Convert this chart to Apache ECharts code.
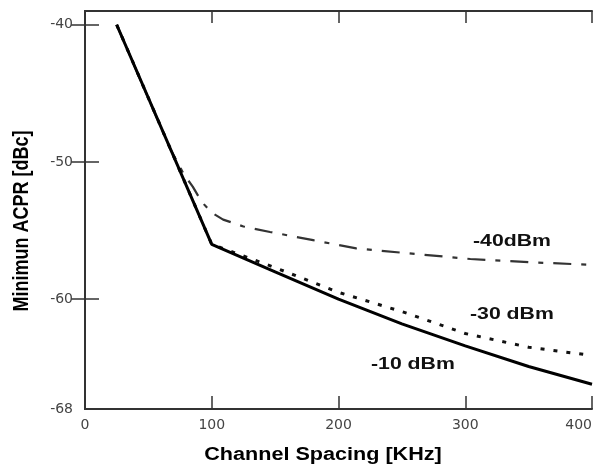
<!DOCTYPE html>
<html>
<head>
<meta charset="utf-8">
<script src="https://cdn.jsdelivr.net/npm/echarts@6/dist/echarts.min.js"></script>
<style>
  html, body { margin: 0; padding: 0; background: #fff; }
  #chart { width: 597px; height: 465px; }
</style>
</head>
<body>
<div id="chart"></div>
<script>
// channel spacing [KHz] and minimum ACPR [dBc] per input level
const xMain = [25, 100, 150, 200, 250, 300, 350, 400]
const acpr10 = [-40, -56, -58.0, -60.0, -61.8, -63.4, -64.9, -66.2]
const acpr30 = [-40, -56, -57.7, -59.5, -60.9, -62.5, -63.5, -64.1]
const x40 = [25, 67, 78, 85, 92, 100, 109, 125, 146, 180, 214, 260, 304, 350, 400]
const acpr40 = [-40, -49.0, -50.9, -51.8, -52.9, -53.7, -54.2, -54.7, -55.1, -55.7, -56.3, -56.7, -57.07, -57.3, -57.5]

const yLabels = [-68, -60, -50, -40]
const yTicks = [-60, -50, -40]

const zip = (xs, ys) => xs.map((x, i) => [x, ys[i]])

const chart = echarts.init(document.getElementById('chart'))

const tickStyle = { color: '#333', width: 1.5 }
const lineAxis = { show: true, lineStyle: { color: '#333', width: 2 } }
const labelFont = "'DejaVu Sans', Verdana, sans-serif"

chart.setOption({
  animation: false,
  grid: { left: 85, right: 5, top: 11, bottom: 56 },
  xAxis: [
    {
      type: 'value', min: 0, max: 400, interval: 100, position: 'bottom',
      axisLine: lineAxis,
      axisTick: { inside: true, length: 13, lineStyle: tickStyle },
      axisLabel: {
        margin: 9, color: '#444', fontFamily: labelFont, fontSize: 14,
        alignMaxLabel: 'right'
      },
      splitLine: { show: false }
    },
    {
      type: 'value', min: 0, max: 400, interval: 100, position: 'top',
      axisLine: lineAxis,
      axisTick: { inside: true, length: 12, lineStyle: tickStyle },
      axisLabel: { show: false },
      splitLine: { show: false }
    }
  ],
  yAxis: [
    {
      type: 'value', min: -68, max: -39, position: 'left',
      axisLine: lineAxis,
      axisTick: { inside: true, length: 14, customValues: yTicks, lineStyle: tickStyle },
      axisLabel: {
        margin: 12, color: '#444', fontFamily: labelFont, fontSize: 14,
        customValues: yLabels
      },
      splitLine: { show: false }
    },
    {
      type: 'value', min: -68, max: -39, position: 'right',
      axisLine: lineAxis,
      axisTick: { inside: true, length: 14, customValues: yTicks, lineStyle: tickStyle },
      axisLabel: { show: false },
      splitLine: { show: false }
    }
  ],
  series: [
    {
      name: '-40dBm', type: 'line', data: zip(x40, acpr40),
      showSymbol: false,
      lineStyle: { color: '#333', width: 2.2, type: [18, 10, 5, 10] }
    },
    {
      name: '-30 dBm', type: 'line', data: zip(xMain, acpr30),
      showSymbol: false,
      lineStyle: { color: '#111', width: 3, type: [4, 9] }
    },
    {
      name: '-10 dBm', type: 'line', data: zip(xMain, acpr10),
      showSymbol: false,
      lineStyle: { color: '#000', width: 3 }
    }
  ],
  graphic: [
    {
      type: 'text', x: 323, y: 455, scaleX: 1.2,
      style: {
        text: 'Channel Spacing [KHz]', fill: '#000',
        font: 'bold 18px "Liberation Sans", Arial, sans-serif',
        textAlign: 'center', textVerticalAlign: 'middle'
      }
    },
    {
      type: 'text', x: 22, y: 221, rotation: Math.PI / 2, scaleY: 1.2,
      style: {
        text: 'Minimun ACPR [dBc]', fill: '#000',
        font: 'bold 18px "Liberation Sans", Arial, sans-serif',
        textAlign: 'center', textVerticalAlign: 'middle'
      }
    },
    {
      type: 'text', x: 473, y: 241, scaleX: 1.25,
      style: {
        text: '-40dBm', fill: '#111',
        font: 'bold 17px "Liberation Sans", Arial, sans-serif',
        textAlign: 'left', textVerticalAlign: 'middle'
      }
    },
    {
      type: 'text', x: 470, y: 314, scaleX: 1.25,
      style: {
        text: '-30 dBm', fill: '#111',
        font: 'bold 17px "Liberation Sans", Arial, sans-serif',
        textAlign: 'left', textVerticalAlign: 'middle'
      }
    },
    {
      type: 'text', x: 371, y: 364, scaleX: 1.25,
      style: {
        text: '-10 dBm', fill: '#111',
        font: 'bold 17px "Liberation Sans", Arial, sans-serif',
        textAlign: 'left', textVerticalAlign: 'middle'
      }
    }
  ]
})
</script>
</body>
</html>
